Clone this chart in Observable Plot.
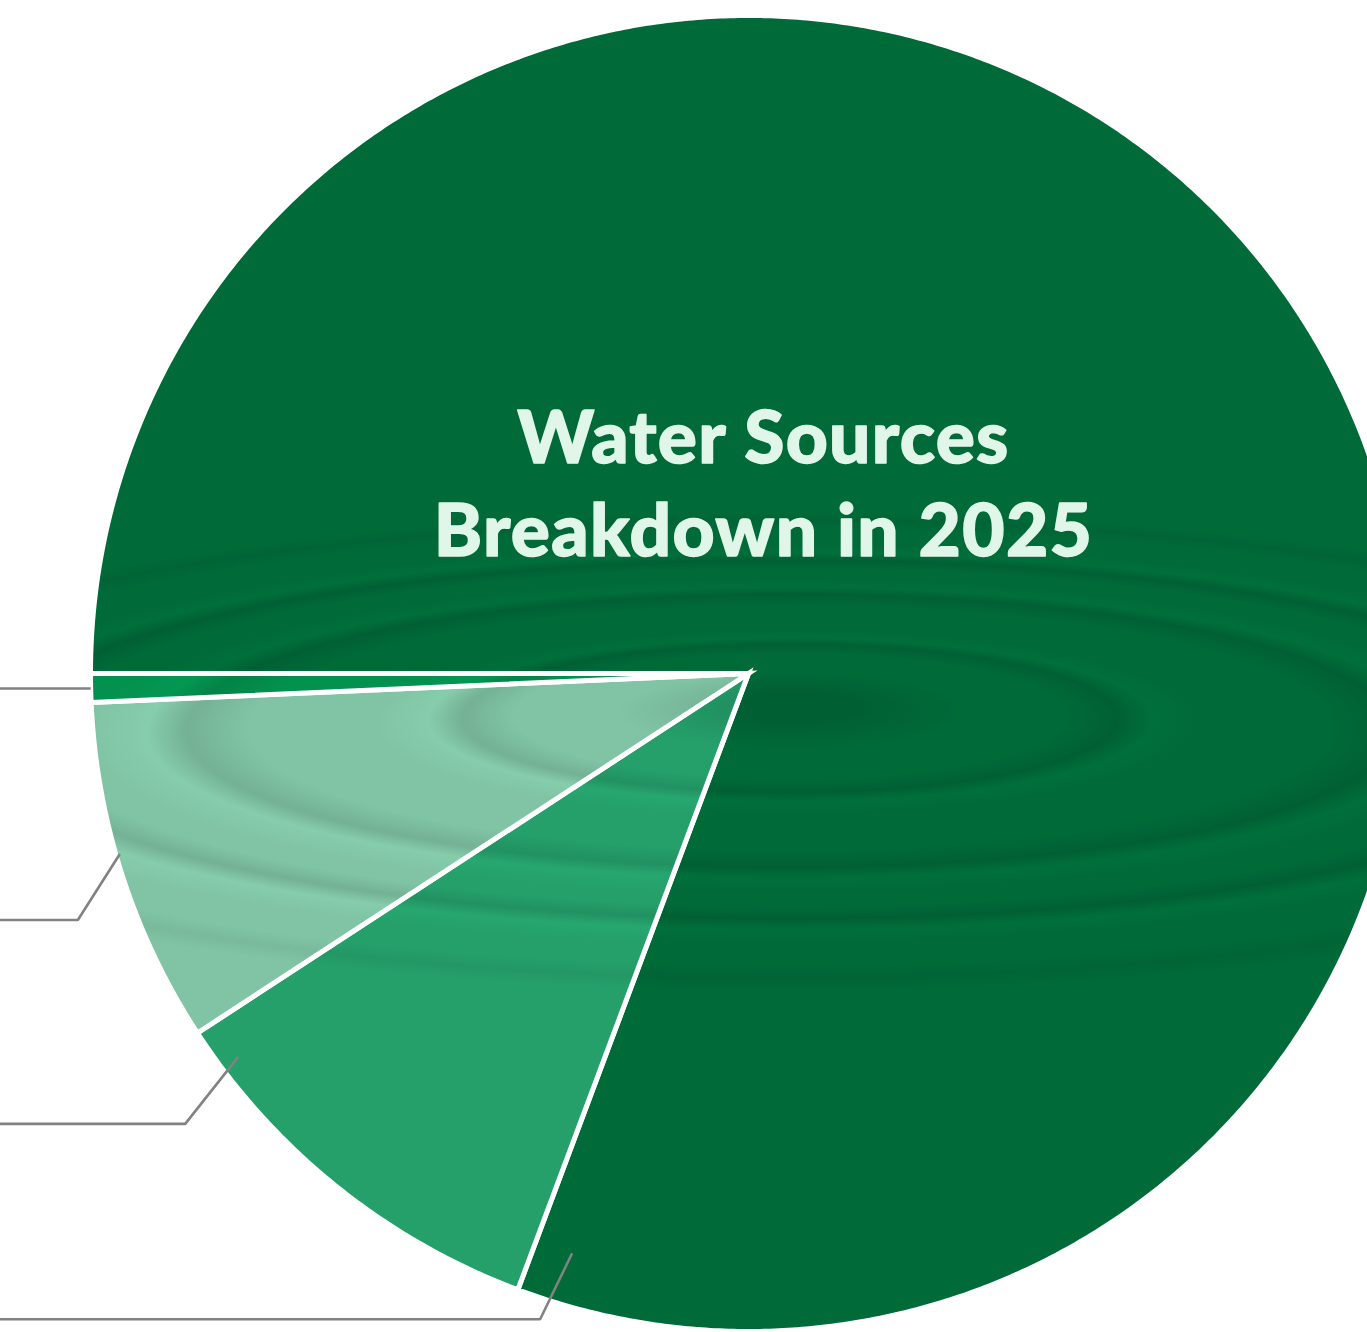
<!DOCTYPE html>
<html>
<head>
<meta charset="utf-8">
<script src="https://cdn.jsdelivr.net/npm/d3@7"></script>
<script src="https://cdn.jsdelivr.net/npm/@observablehq/plot@0.6"></script>
<style>
  html, body { margin: 0; padding: 0; background: #ffffff; overflow: hidden; }
  #chart svg { display: block; }
</style>
</head>
<body>
<div id="chart"></div>
<script>
// ---- data ----
const categories = ["Surface water", "Groundwater", "Recycled water", "Desalination"];
const values = [80.7, 10.1, 8.5, 0.7];
const colors = ["#006a39", "#25a06b", "#80c4a5", "#03914f"];
const titleLines = ["Water Sources", "Breakdown in 2025"];

// ---- layout ----
const W = 1367, H = 1332;
const CX = 748, CY = 673, R = 658;          // pie centre and radius (px)
const START_DEG = 180;                      // first slice starts at 9 o'clock, clockwise
// leader-line layout per slice: offset from slice end (deg), radial fraction, diagonal run/drop (px)
const leaderOffsetDeg = [3.6, 3.8, 13.5, 1.3];
const leaderRadius = [0.921, 0.97, 0.994, 1.0];
const leaderRun = [32, 53, 42, 0];
const leaderDrop = [66, 67, 66, 0];

// ---- geometry from data ----
const total = d3.sum(values);
const rad = (d) => d * Math.PI / 180;
const slices = [];
let acc = START_DEG;
values.forEach((v, i) => {
  const a0 = acc, a1 = acc + v / total * 360;
  slices.push({cat: categories[i], i, a0, a1});
  acc = a1;
});

const pieRows = [];
for (const s of slices) {
  const n = Math.max(2, Math.ceil((s.a1 - s.a0) / 0.4));
  const pts = [{x: 0, y: 0}];
  for (let k = 0; k <= n; k++) {
    const a = rad(s.a0 + (s.a1 - s.a0) * k / n);
    pts.push({x: Math.cos(a), y: Math.sin(a)});
  }
  pts.push({x: 0, y: 0});
  pts.push(pts[1]); // overlap so the apex gets a proper join
  pts.forEach((p, k) => pieRows.push({cat: s.cat, i: s.i, k, x: p.x * R, y: p.y * R}));
}

const leaderRows = [];
slices.forEach((s) => {
  const i = s.i;
  const a = rad(s.a1 - leaderOffsetDeg[i]);
  const sx = Math.cos(a) * R * leaderRadius[i];
  const sy = Math.sin(a) * R * leaderRadius[i];
  const ex = sx - leaderRun[i], ey = sy + leaderDrop[i];
  leaderRows.push({cat: s.cat, k: 0, x: sx, y: sy});
  leaderRows.push({cat: s.cat, k: 1, x: ex, y: ey});
  leaderRows.push({cat: s.cat, k: 2, x: -CX - 20, y: ey});
});

// ---- plot ----
const marks = [];
slices.forEach((s) => {
  marks.push(Plot.line(pieRows.filter((d) => d.i === s.i), {
    x: "x", y: "y",
    fill: `url(#ripple${s.i})`,
    stroke: "#ffffff",
    strokeWidth: 5,
    strokeLinejoin: "miter",
    strokeMiterlimit: 4,
    strokeLinecap: "butt",
    curve: "linear"
  }));
});
marks.push(Plot.line(leaderRows, {
  x: "x", y: "y", z: "cat",
  stroke: "#828282", strokeWidth: 2.6,
  strokeLinejoin: "miter", strokeLinecap: "butt"
}));
const titleStyle = {
  text: (d) => d,
  frameAnchor: "top-left",
  textAnchor: "middle",
  lineAnchor: "bottom",
  fill: "#e0f6e8",
  stroke: "#e0f6e8",
  strokeWidth: 1.4,
  fontFamily: "Lato, 'Open Sans', sans-serif",
  fontWeight: 900,
  fontSize: 73
};
marks.push(Plot.text([titleLines[0]], {...titleStyle, dx: 763, dy: 462}));
marks.push(Plot.text([titleLines[1]], {...titleStyle, dx: 763, dy: 555}));

const svg = Plot.plot({
  width: W, height: H,
  margin: 0,
  style: {background: "#ffffff", overflow: "visible"},
  x: {type: "linear", domain: [-CX, W - CX], range: [0, W], axis: null},
  y: {type: "linear", domain: [-CY, H - CY], range: [0, H], axis: null},
  marks
});
d3.select(svg).selectAll("text").style("letter-spacing", "1.3px");

// ripple gradients (style only): soft elliptical rings around the water drop
const defs = d3.select(svg).insert("defs", ":first-child");
const ringStops = [
  [0.00, "d"], [0.06, "d"], [0.15, "b"], [0.24, "b"], [0.285, "d"], [0.315, "l"], [0.36, "b"],
  [0.47, "b"], [0.525, "d"], [0.56, "l"], [0.61, "b"], [0.65, "b"], [0.69, "d"], [0.725, "l"],
  [0.77, "b"], [0.84, "b"], [0.88, "s"], [0.92, "b"], [1.00, "b"]
];
colors.forEach((c, i) => {
  const base = d3.color(c);
  const tone = {
    b: base.formatHex(),
    d: base.darker(0.28).formatHex(),
    s: base.darker(0.16).formatHex(),
    l: base.brighter(0.12).formatHex()
  };
  const g = defs.append("radialGradient")
    .attr("id", `ripple${i}`)
    .attr("gradientUnits", "userSpaceOnUse")
    .attr("cx", 0).attr("cy", 0.2).attr("r", 1)
    .attr("fx", 0).attr("fy", 0)
    .attr("gradientTransform", `translate(${CX + 42} ${CY + 30}) scale(1150 260)`);
  ringStops.forEach(([o, t]) => g.append("stop").attr("offset", o).attr("stop-color", tone[t]));
});

document.getElementById("chart").appendChild(svg);
</script>
</body>
</html>
